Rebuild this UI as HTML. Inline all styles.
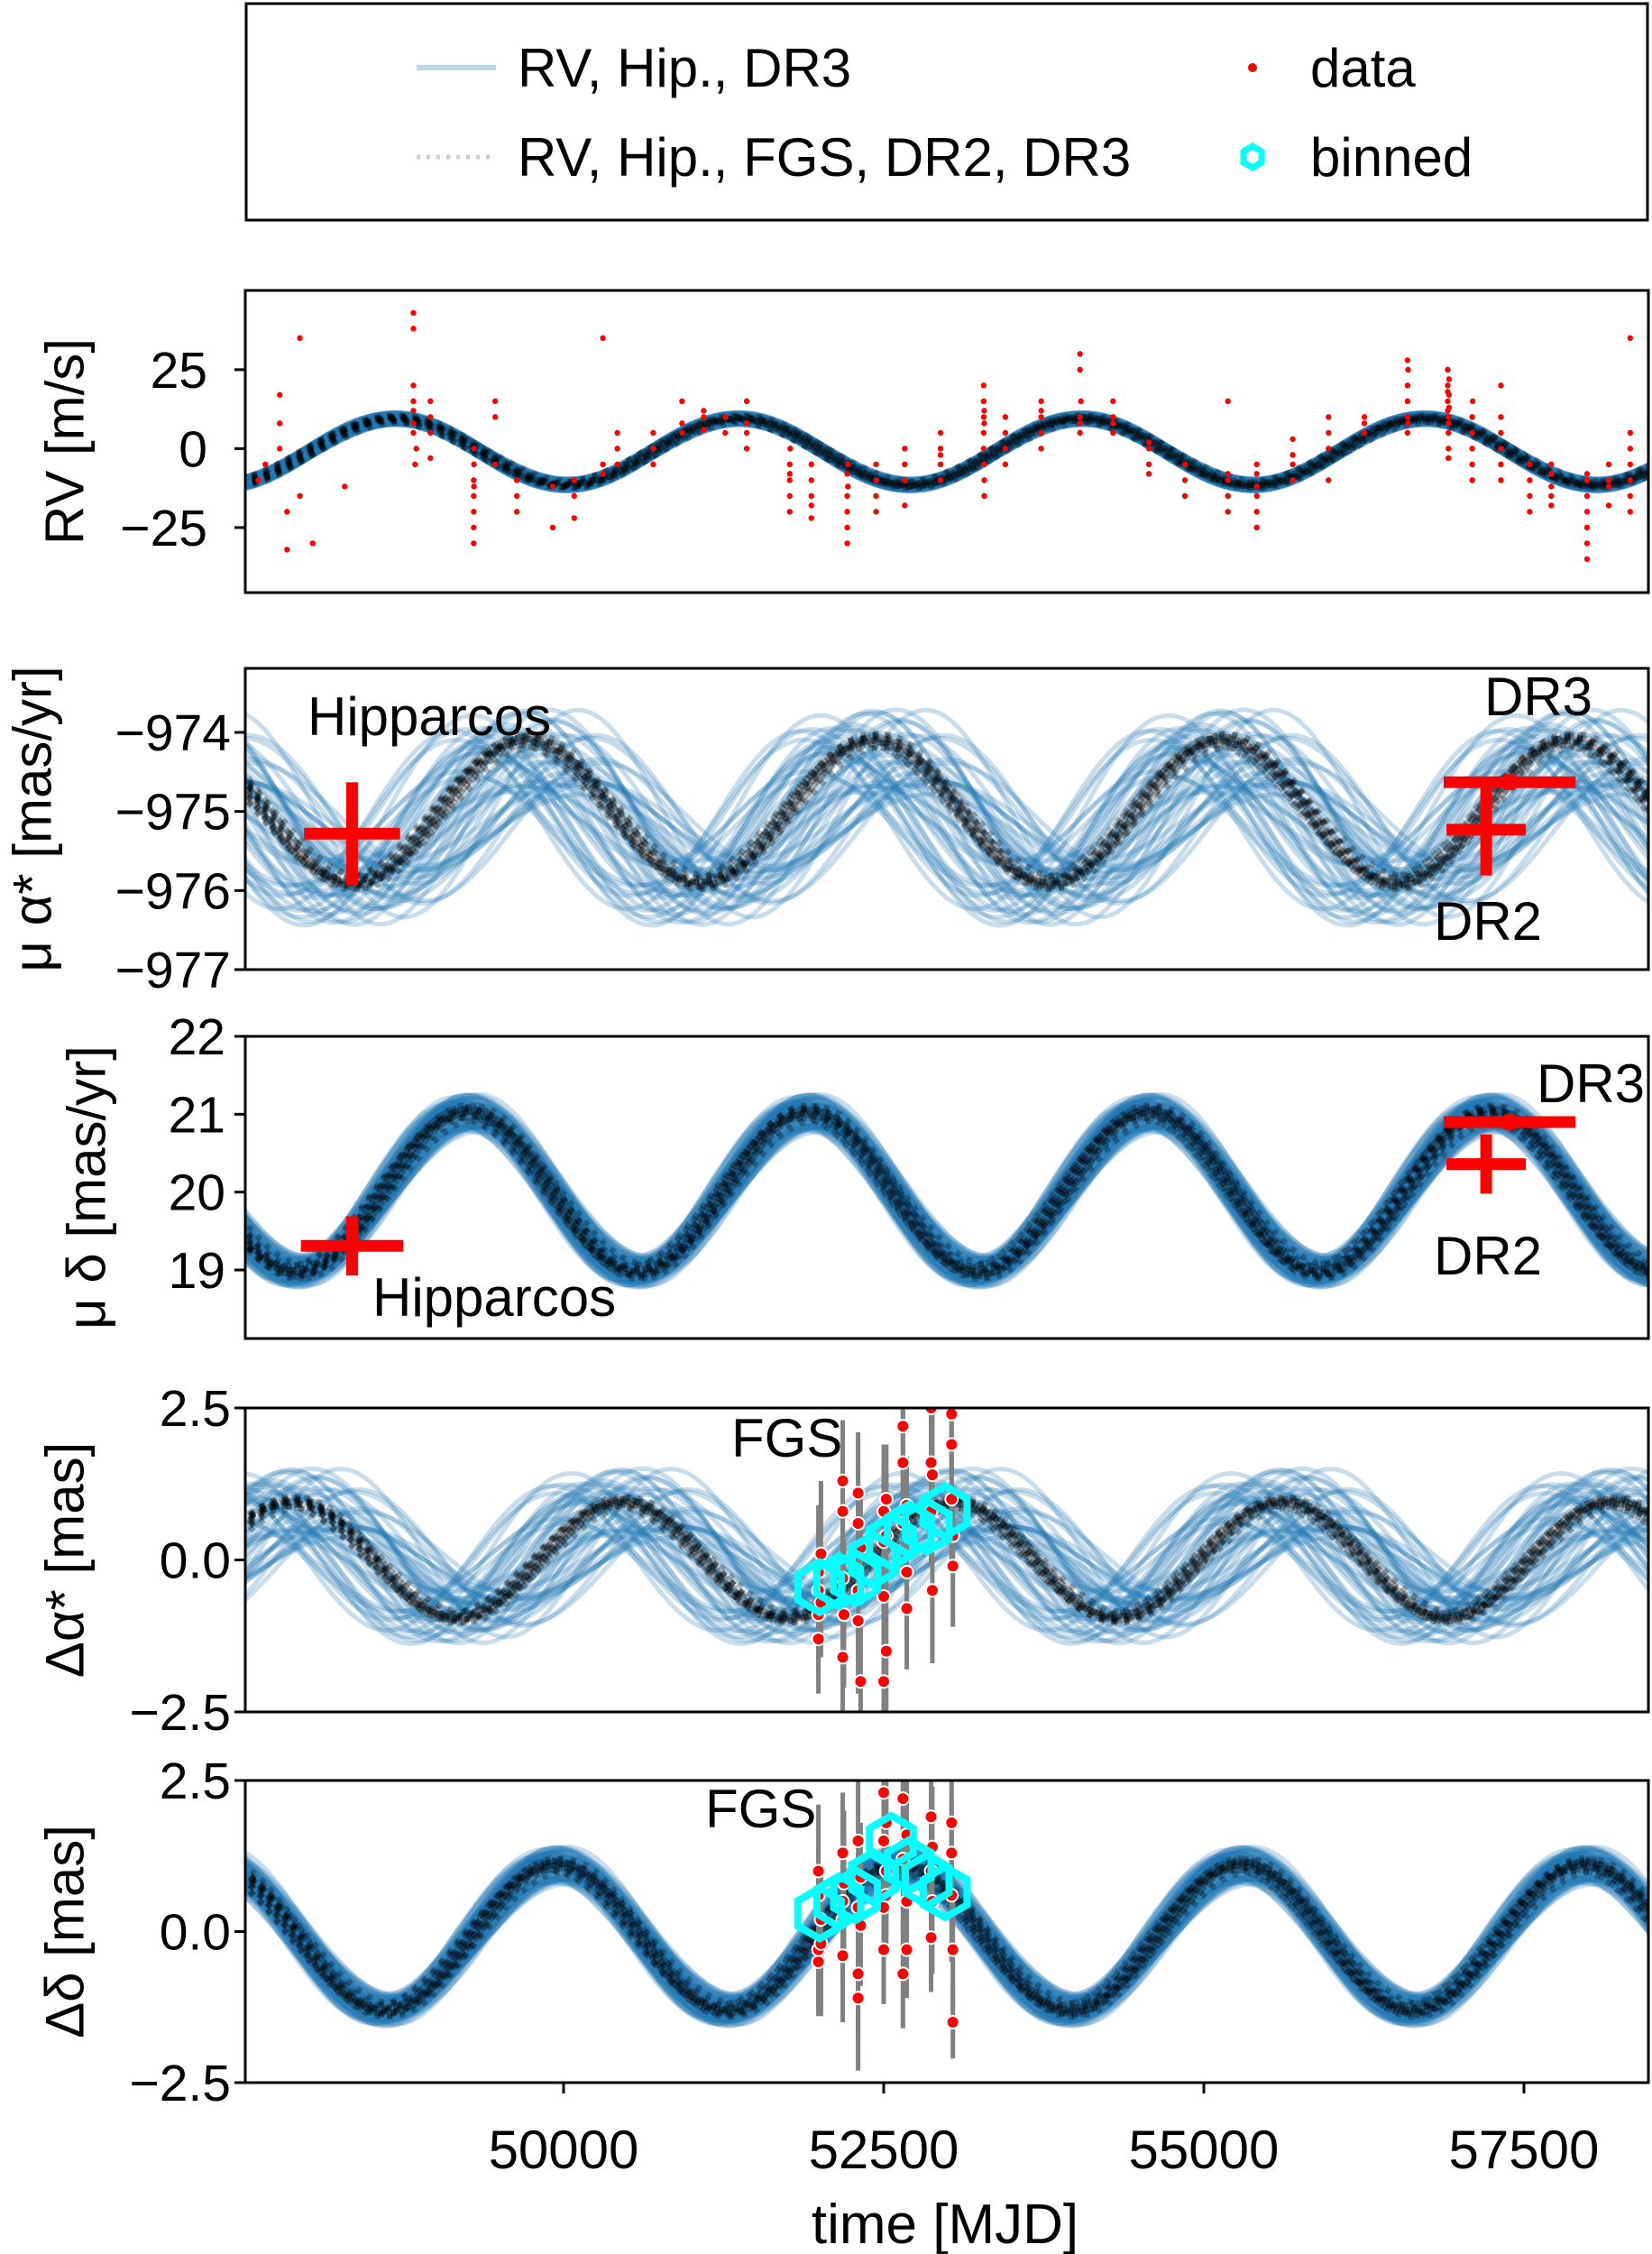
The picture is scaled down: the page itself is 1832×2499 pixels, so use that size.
<!DOCTYPE html>
<html><head><meta charset="utf-8"><style>
html,body{margin:0;padding:0;background:#fff}
svg{display:block;font-family:"Liberation Sans",sans-serif}
</style></head><body>
<svg id="fig" width="1832" height="2499" viewBox="0 0 1832 2499" xmlns="http://www.w3.org/2000/svg">
<g id="legend">
<rect x="273" y="4" width="1554" height="240" fill="#fff" stroke="#000" stroke-width="3"/>
<line x1="462" y1="75" x2="550" y2="75" stroke="rgba(31,119,180,0.3)" stroke-width="6"/>
<text x="574" y="96" font-size="60">RV, Hip., DR3</text>
<line x1="462" y1="174" x2="550" y2="174" stroke="rgba(0,0,0,0.2)" stroke-width="5" stroke-dasharray="4 7"/>
<text x="574" y="195" font-size="60">RV, Hip., FGS, DR2, DR3</text>
<circle cx="1389" cy="75" r="5" fill="red"/>
<text x="1453" y="96" font-size="60">data</text>
<polygon points="1389,162 1399,168 1399,180 1389,186 1379,180 1379,168" fill="none" stroke="cyan" stroke-width="7"/>
<text x="1453" y="195" font-size="60">binned</text>
</g>
</svg>
<script>
// ---- data ----
const tMin = 47514, tMax = 58472;
const xTicks = [50000, 52500, 55000, 57500];
const xTickLabels = ["50000", "52500", "55000", "57500"];
// per-panel orbit model parameters (period days, peak epoch, center, amplitude)
const rvModel = [2680, 48683, -1, 10.5];
const pmraModel = [2716, 49711, -975.0, 0.9];
const pmdecModel = [2660, 49250, 20.0, 1.02];
const draModel = [2577, 50457, 0.0, 0.95];
const ddecModel = [2676, 49943, -0.1, 1.2];
// posterior sample jitters
const phaseJitter = [0.12,-0.55,0.83,-0.21,0.40,-0.92,0.05,0.67,-0.38,0.91,-0.74,0.28,-0.10,0.55,-0.63,0.19,0.76,-0.47,0.33,-0.85,0.02,0.61,-0.29,0.88,-0.16,0.47,-0.70,0.24,-0.96,0.71,-0.05,0.36,-0.58,0.94,-0.33,0.15,-0.81,0.52,-0.12,0.79,-0.44,0.08,0.64,-0.67,0.30,-0.25,0.97,-0.52,0.43,-0.02];
const ampJitter = [-0.31,0.72,0.05,-0.88,0.44,0.19,-0.63,0.91,-0.12,0.36,-0.47,0.80,-0.95,0.27,0.58,-0.22,-0.70,0.13,0.66,-0.39,0.98,-0.05,0.41,-0.83,0.22,-0.58,0.74,-0.17,0.50,-0.92,0.09,0.85,-0.44,-0.01,0.62,-0.76,0.31,-0.28,0.93,-0.64,0.17,0.54,-0.86,0.39,-0.11,0.70,-0.50,0.26,-0.34,0.81];
const offJitter = [0.5,-0.2,0.8,-0.7,0.1,0.3,-0.9,0.6,-0.4,0.2,-0.6,0.9,-0.1,0.4,-0.8,0.7,-0.3,0.0,0.55,-0.45,0.25,-0.65,0.85,-0.15,0.35,-0.95,0.65,-0.35,0.15,-0.75,0.45,-0.05,0.95,-0.55,0.05,-0.25,0.75,-0.85,0.3,-0.5,0.6,-0.1,0.2,-0.7,0.9,-0.3,0.4,-0.6,0.1,0.8];
const blackPhase = [0.1,-0.4,0.7,-0.8,0.3,-0.1,0.9,-0.6,0.5,-0.3,0.0,0.6,-0.9,0.2,-0.5];
const blackAmp = [0.4,-0.2,0.8,-0.6,0.1,0.9,-0.9,0.3,-0.4,0.6,-0.1,0.2,-0.7,0.5,0.0];
// RV data [MJD, m/s]
const rvT = [47615,47670,47783,47783,47783,47840,47840,47940,47940,48040,48290,48827,48827,48827,48827,48827,48827,48827,48840,48850,48960,48960,48960,48960,49298,49298,49298,49298,49298,49300,49300,49300,49466,49466,49466,49635,49635,49635,49915,49915,50083,50083,50083,50307,50307,50307,50420,50420,50420,50700,50700,50700,50925,50925,50925,51094,51094,51094,51262,51262,51430,51430,51430,51430,51766,51766,51766,51766,51766,51770,51935,51935,51935,51935,51935,52215,52215,52215,52215,52215,52220,52220,52440,52440,52440,52440,52664,52664,52664,52664,52944,52944,52944,52944,52944,53281,53281,53281,53281,53281,53285,53285,53285,53285,53285,53450,53450,53450,53450,53730,53730,53730,53730,53730,54033,54033,54033,54033,54033,54040,54291,54291,54291,54291,54571,54571,54571,54571,54852,54852,54852,55188,55188,55188,55188,55188,55413,55413,55413,55413,55413,55413,55694,55694,55694,55694,55974,55974,55974,55974,56254,56254,56254,56591,56591,56591,56591,56591,56595,56595,56905,56905,56905,56905,56905,56910,56910,56910,56910,56910,56915,56915,56915,57096,57096,57096,57096,57096,57100,57320,57320,57320,57320,57320,57320,57545,57545,57545,57545,57713,57713,57713,57713,57713,57993,57993,57993,57993,57993,57993,57993,58162,58162,58162,58162,58330,58330,58330,58330,58330,58330,58330];
const rvV = [-10,-5,17,8,0,-32,-20,35,-15,-30,-12,20,15,12,8,5,43,38,-5,0,5,10,-3,15,-10,-15,-20,-25,-30,-5,0,-12,-5,15,10,-15,-20,-10,-12,-25,-15,-10,-22,35,-5,-8,-5,0,5,0,5,-5,15,5,8,10,6,12,5,10,5,8,15,0,-5,-10,-15,-20,-8,0,-5,-15,-22,-10,-18,-8,-15,-20,-25,-30,-12,-5,-15,-10,-20,-5,-10,-5,-18,0,-5,-2,0,5,-10,20,15,10,5,0,-5,-10,-15,12,8,5,0,10,-5,10,5,12,15,0,30,25,10,8,5,15,10,8,15,5,2,-5,0,-8,-10,-5,-15,15,-10,-8,-15,-20,-15,-20,-25,-12,-8,-5,-10,-5,-2,3,0,5,10,-10,5,8,10,28,20,15,10,5,25,8,25,20,18,15,12,10,8,5,0,-3,22,17,13,10,5,0,-5,-10,15,20,10,5,-5,0,-10,-15,-10,-5,-20,-12,-18,-8,-5,-15,-20,-25,-15,-10,-30,-35,-8,-12,-5,-18,-10,35,-5,-10,0,5,-15,-20];
// absolute astrometry points
const pmraT = [48348, 57205, 57388];
const pmraV = [-975.28, -975.23, -974.63];
const pmraTErr = [375, 310, 515];
const pmraVErr = [0.65, 0.58, 0.1];
const pmdecT = [48348, 57205, 57388];
const pmdecV = [19.31, 20.36, 20.90];
const pmdecTErr = [400, 310, 515];
const pmdecVErr = [0.38, 0.38, 0.1];
// FGS relative astrometry
const fgsT = [51990,51990,51990,51990,52010,52010,52180,52180,52180,52180,52190,52300,52300,52300,52300,52320,52320,52500,52500,52500,52500,52520,52520,52520,52650,52650,52650,52680,52680,52680,52870,52870,52870,52880,52880,53030,53030,53030,53040,53040];
const fgsA = [-1.3,-0.9,-0.5,-0.2,-0.7,0.1,1.3,0.8,-0.3,-1.6,-0.9,1.1,0.6,-0.5,-1.0,-2.0,0.2,0.8,0.3,-0.6,-2.0,-1.5,0.4,1.0,2.2,1.6,0.6,-0.2,-0.8,0.9,2.5,1.6,0.8,-0.5,1.4,2.4,1.9,1.0,-0.1,0.4];
const fgsD = [-0.5,-0.3,0.6,1.0,0.2,-0.2,1.3,0.5,-0.4,0.2,0.8,1.5,0.4,-0.7,-1.1,0.1,0.9,2.3,1.5,0.4,-0.3,1.8,1.0,0.6,2.2,1.2,-0.7,0.5,1.6,-0.3,1.9,1.0,-0.1,0.5,1.4,1.8,1.3,0.6,-0.3,-1.5];
const fgsErr = [0.9,1.0,0.8,1.1,0.9,1.2,1.0,0.9,1.1,1.0,1.2,1.0,0.9,1.1,1.2,1.0,0.9,1.1,1.0,1.2,0.9,1.0,1.1,0.9,1.0,1.2,0.9,1.1,1.0,0.8,1.1,1.0,0.9,1.2,1.0,1.0,0.9,1.1,1.0,0.6];
const binT = [52000,52150,52280,52420,52560,52700,52840,52980];
const binA = [-0.45,-0.35,-0.3,0.0,0.3,0.5,0.55,0.8];
const binD = [0.3,0.5,0.6,0.9,1.5,1.1,0.85,0.65];

// ---- layout ----
const NS = "http://www.w3.org/2000/svg";
const svg = document.getElementById('fig');
const L = 272, R = 1828;
const xs = t => L + (t - tMin) * (R - L) / (tMax - tMin);
function mk(tag, attrs, parent) { const e = document.createElementNS(NS, tag); for (const k in attrs) e.setAttribute(k, attrs[k]); (parent || svg).appendChild(e); return e; }

const panels = [
 {key:'rv', top:322, bot:657, ymin:-45.6, ymax:50.1, ticks:[25,0,-25], tl:["25","0","\u221225"], model:rvModel, ps:0.012, as:0.08, os:0, sh:0, bw:13, ba:0.35, label:"RV [m/s]", lx:72, tx:L-42},
 {key:'pmra', top:741, bot:1075, ymin:-977, ymax:-973.19, ticks:[-974,-975,-976,-977], tl:["\u2212974","\u2212975","\u2212976","\u2212977"], model:pmraModel, ps:0.22, as:0.5, os:0.2, sh:-0.15, bw:5, ba:0.25, label:"\u03bc \u03b1* [mas/yr]", lx:36, tx:L-16},
 {key:'pmdec', top:1149, bot:1484, ymin:18.12, ymax:22, ticks:[22,21,20,19], tl:["22","21","20","19"], model:pmdecModel, ps:0.05, as:0.2, os:0.05, sh:0, bw:8, ba:0.25, label:"\u03bc \u03b4 [mas/yr]", lx:96, tx:L-22},
 {key:'dra', top:1561, bot:1898, ymin:-2.5, ymax:2.5, ticks:[2.5,0,-2.5], tl:["2.5","0.0","\u22122.5"], model:draModel, ps:0.22, as:0.5, os:0.2, sh:0, bw:5, ba:0.25, label:"\u0394\u03b1* [mas]", lx:72, tx:L-16},
 {key:'ddec', top:1974, bot:2309, ymin:-2.5, ymax:2.5, ticks:[2.5,0,-2.5], tl:["2.5","0.0","\u22122.5"], model:ddecModel, ps:0.05, as:0.22, os:0.05, sh:0, bw:8, ba:0.25, label:"\u0394\u03b4 [mas]", lx:72, tx:L-16}
];

function curve(model, dph, damp, doff) {
  const [P, t0, c, A] = model; const pts = [];
  for (let t = tMin - 40; t <= tMax + 40; t += 30) pts.push([t, c + doff + A * (1 + damp) * Math.cos(2 * Math.PI * ((t - t0) / P - dph))]);
  return pts;
}

panels.forEach((p, pi) => {
  const ys = v => p.bot - (v - p.ymin) * (p.bot - p.top) / (p.ymax - p.ymin);
  const g = mk('g', {});
  
  
  const cp = mk('clipPath', {id: 'clip' + pi}, g);
  mk('rect', {x: L, y: p.top, width: R - L, height: p.bot - p.top}, cp);
  const plot = mk('g', {'clip-path': 'url(#clip' + pi + ')'}, g);
  const nb = p.key === 'rv' ? 30 : 50;
  for (let i = 0; i < nb; i++) {
    const d = curve(p.model, phaseJitter[i] * p.ps, ampJitter[i] * p.as, (offJitter[i] * p.os + p.sh) * p.model[3]).map(q => xs(q[0]).toFixed(1) + ',' + ys(q[1]).toFixed(1)).join(' ');
    const pl = mk('polyline', {points: d, fill: 'none', stroke: 'rgba(31,119,180,' + p.ba + ')', 'stroke-width': p.bw}, plot);
    
    
  }
  for (let i = 0; i < blackPhase.length; i++) {
    const d = curve(p.model, blackPhase[i] * 0.03, blackAmp[i] * 0.1, 0).map(q => xs(q[0]).toFixed(1) + ',' + ys(q[1]).toFixed(1)).join(' ');
    const pl = mk('polyline', {points: d, fill: 'none', stroke: 'rgba(0,0,0,0.28)', 'stroke-width': 7, 'stroke-dasharray': '6 8'}, plot);
    
    
  }
  if (p.key === 'rv') {
    rvT.forEach((t, i) => {
      const c = mk('circle', {cx: xs(t), cy: ys(rvV[i]), r: 3.2, fill: 'red'}, plot);
      
      
    });
  }
  if (p.key === 'pmra' || p.key === 'pmdec') {
    const T = p.key === 'pmra' ? pmraT : pmdecT, V = p.key === 'pmra' ? pmraV : pmdecV;
    const TE = p.key === 'pmra' ? pmraTErr : pmdecTErr, VE = p.key === 'pmra' ? pmraVErr : pmdecVErr;
    T.forEach((t, i) => {
      const cg = mk('g', {stroke: 'red', 'stroke-width': 13}, plot);
      
      
      mk('line', {x1: xs(t - TE[i]), x2: xs(t + TE[i]), y1: ys(V[i]), y2: ys(V[i])}, cg);
      mk('line', {x1: xs(t), x2: xs(t), y1: ys(V[i] - VE[i]), y2: ys(V[i] + VE[i])}, cg);
    });
  }
  if (p.key === 'dra' || p.key === 'ddec') {
    const V = p.key === 'dra' ? fgsA : fgsD, B = p.key === 'dra' ? binA : binD;
    fgsT.forEach((t, i) => {
      const e = mk('line', {x1: xs(t), x2: xs(t), y1: ys(V[i] - fgsErr[i]), y2: ys(V[i] + fgsErr[i]), stroke: '#808080', 'stroke-width': 5}, plot);
      
      
    });
    fgsT.forEach((t, i) => {
      const c = mk('circle', {cx: xs(t), cy: ys(V[i]), r: 7, fill: 'red', stroke: '#fff', 'stroke-width': 2}, plot);
      
      
    });
    binT.forEach((t, i) => {
      const cx = xs(t), cy = ys(B[i]), r = 28; const pts = [];
      for (let k = 0; k < 6; k++) { const a = Math.PI / 2 + k * Math.PI / 3; pts.push((cx + r * Math.cos(a)).toFixed(1) + ',' + (cy + r * Math.sin(a)).toFixed(1)); }
      const h = mk('polygon', {points: pts.join(' '), fill: 'none', stroke: 'cyan', 'stroke-width': 8}, plot);
      
      
    });
  }
  const fr = mk('rect', {x: L, y: p.top, width: R - L, height: p.bot - p.top, fill: 'none', stroke: '#000', 'stroke-width': 3}, g);
  
  
  p.ticks.forEach((v, i) => {
    const y = ys(v);
    const tk = mk('line', {x1: L - 12, x2: L, y1: y, y2: y, stroke: '#000', 'stroke-width': 3}, g);
    
    
    const tx = mk('text', {x: p.tx, y: y + 20, 'font-size': 57, 'text-anchor': 'end'}, g);
    tx.textContent = p.tl[i];
    
    
  });
  const yl = mk('text', {x: p.lx, y: (p.top + p.bot) / 2, 'font-size': 60, 'text-anchor': 'middle', transform: 'rotate(-90 ' + p.lx + ' ' + (p.top + p.bot) / 2 + ')', 'dominant-baseline': 'central'}, g);
  yl.textContent = p.label;
  
  
});

const ann = [
 ['Hipparcos', 341, 815, 'pmra'], ['DR3', 1646, 793, 'pmra'], ['DR2', 1590, 1042, 'pmra'],
 ['Hipparcos', 413, 1459, 'pmdec'], ['DR3', 1704, 1222, 'pmdec'], ['DR2', 1590, 1413, 'pmdec'],
 ['FGS', 811, 1615, 'dra'], ['FGS', 782, 2026, 'ddec']
];
ann.forEach(a => {
  const t = mk('text', {x: a[1], y: a[2], 'font-size': 60});
  t.textContent = a[0];
  
  
});

const last = panels[4];
xTicks.forEach((t, i) => {
  const tk = mk('line', {x1: xs(t), x2: xs(t), y1: last.bot, y2: last.bot + 12, stroke: '#000', 'stroke-width': 3});
  
  
  const tx = mk('text', {x: xs(t), y: 2404, 'font-size': 60, 'text-anchor': 'middle'});
  tx.textContent = xTickLabels[i];
  
  
});
const xl = mk('text', {x: 1048, y: 2487, 'font-size': 62, 'text-anchor': 'middle'});
xl.textContent = 'time [MJD]';


</script>
</body></html>
